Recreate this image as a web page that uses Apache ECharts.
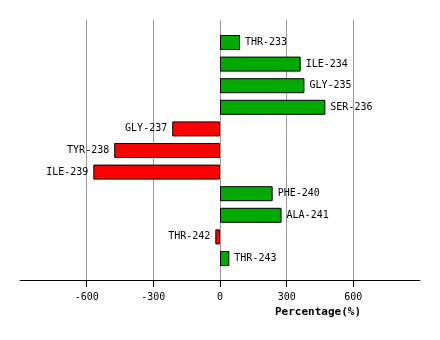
<!DOCTYPE html>
<html><head><meta charset="utf-8">
<script src="https://cdn.jsdelivr.net/npm/echarts@6/dist/echarts.min.js"></script>
<style>html,body{margin:0;padding:0;background:#fff}#c{width:440px;height:340px}</style>
</head><body><div id="c"></div>
<script>
const categories = ['THR-233','ILE-234','GLY-235','SER-236','GLY-237','TYR-238','ILE-239','PHE-240','ALA-241','THR-242','THR-243'];
const values = [90, 363, 380, 474, -215, -476, -570, 237, 277, -21, 42];
const tickValues = [-600, -300, 0, 300, 600];
const axisTitle = 'Percentage(%)';

const chart = echarts.init(document.getElementById('c'), null, {renderer: 'canvas'});
const font = 'DejaVu Sans Mono';
chart.setOption({
  animation: false,
  grid: [
    {left: 20, right: 20, top: 31.7, bottom: 70.7},
    {left: 20, right: 20, top: 20, bottom: 60}
  ],
  xAxis: [
    {gridIndex: 0, type: 'value', min: -900, max: 900, interval: 300, show: false},
    {gridIndex: 1, type: 'value', min: -900, max: 900, interval: 300,
      axisLine: {show: true, lineStyle: {color: '#000', width: 1}},
      axisTick: {show: true, length: 7, lineStyle: {color: '#000'}, customValues: tickValues},
      axisLabel: {color: '#000', fontFamily: font, fontSize: 10, margin: 12, customValues: tickValues,
                  formatter: v => String(v)},
      splitLine: {show: true, lineStyle: {color: '#999', width: 1}}
    }
  ],
  yAxis: [
    {gridIndex: 0, type: 'category', data: categories, inverse: true, show: false},
    {gridIndex: 1, type: 'category', data: [''], show: false}
  ],
  graphic: [{
    type: 'text', left: 275, top: 307,
    style: {text: axisTitle, font: 'bold 11px "DejaVu Sans Mono"', fill: '#000'}
  }],
  series: [{
    type: 'bar', xAxisIndex: 0, yAxisIndex: 0, barWidth: 15,
    data: values.map(v => ({
      value: v,
      itemStyle: {color: v >= 0 ? '#00aa00' : '#ff0000', borderColor: '#000', borderWidth: 1},
      label: {position: v >= 0 ? 'right' : 'left'}
    })),
    label: {show: true, distance: 5, color: '#000', fontFamily: font, fontSize: 10,
            formatter: p => categories[p.dataIndex]}
  }]
});
</script></body></html>
